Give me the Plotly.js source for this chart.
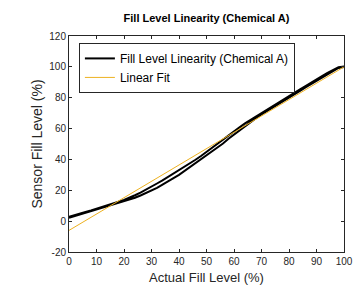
<!DOCTYPE html>
<html>
<head>
<meta charset="utf-8">
<script src="https://cdn.plot.ly/plotly-3.0.1.min.js"></script>
<style>html,body{margin:0;padding:0;background:#fff;}#chart{width:356px;height:285px;}</style>
</head>
<body>
<div id="chart"></div>
<script>
var fillLevel = [0,2,4,6,8,10,12,14,16,18,20,22,24,26,28,30,32,34,36,38,40,42,44,46,48,50,52,54,56,58,60,62,64,66,68,70,72,74,76,78,80,82,84,86,88,90,92,94,96,98,100];
var sensorUp = [2.1,3.2,4.3,5.3,6.4,7.5,8.5,9.6,10.7,11.7,12.8,13.9,15.2,16.6,18.1,19.9,21.6,23.7,25.6,27.9,30.0,32.5,34.9,37.4,39.7,42.3,44.9,47.7,50.3,53.4,56.1,59.1,61.7,64.3,66.8,69.2,71.3,73.7,75.7,78.0,80.1,82.3,84.4,86.7,88.8,91.0,93.1,95.4,97.5,99.3,100.0];
var sensorDown = [2.9,3.9,4.8,6.0,7.0,8.2,9.1,10.3,11.4,12.6,13.8,15.2,16.8,18.5,20.4,22.3,24.4,26.4,28.6,30.8,32.9,35.2,37.5,39.8,42.2,44.6,47.2,49.7,52.5,55.2,58.1,60.8,63.4,65.9,68.2,70.5,72.7,74.8,77.0,79.0,81.2,83.2,85.4,87.5,89.7,91.7,94.0,96.1,98.2,99.8,100.3];
var fitX = [0, 100];
var fitY = [-6, 100];
var xTicks = [0,10,20,30,40,50,60,70,80,90,100];
var yTicks = [-20,0,20,40,60,80,100,120];
var yTickLabels = ['-20','0','20','40','60','80','100','120'];

var loopX = fillLevel.concat(fillLevel.slice().reverse());
var loopY = sensorUp.concat(sensorDown.slice().reverse());

var traces = [
  {x: loopX, y: loopY, type: 'scatter', mode: 'lines', name: 'Fill Level Linearity (Chemical A)',
   line: {color: '#000000', width: 2}},
  {x: fitX, y: fitY, type: 'scatter', mode: 'lines', name: 'Linear Fit',
   line: {color: '#EDB120', width: 1}}
];

var FONT = 'Liberation Sans, Arial, sans-serif';
var axisCommon = {
  showline: true, linecolor: '#262626', linewidth: 1, mirror: 'ticks',
  ticks: 'inside', ticklen: 3, tickcolor: '#262626', tickwidth: 1,
  showgrid: false, zeroline: false,
  tickfont: {family: FONT, size: 10, color: '#262626'}
};

var layout = {
  width: 356, height: 285,
  margin: {l: 69, r: 12, t: 36, b: 33},
  paper_bgcolor: '#ffffff', plot_bgcolor: '#ffffff',
  title: {text: '<b>Fill Level Linearity (Chemical A)</b>', x: 0.58, xanchor: 'center', y: 0.935, yanchor: 'middle',
          font: {family: FONT, size: 11, color: '#000000'}},
  xaxis: Object.assign({}, axisCommon, {range: [0, 100], tickvals: xTicks,
    title: {text: 'Actual Fill Level (%)', standoff: 13, font: {family: FONT, size: 13, color: '#262626'}}}),
  yaxis: Object.assign({}, axisCommon, {range: [-20, 120], tickvals: yTicks, ticktext: yTickLabels,
    title: {text: 'Sensor Fill Level (%)', standoff: 3, font: {family: FONT, size: 14, color: '#262626'}}}),
  legend: {x: 0.036, y: 0.968, xanchor: 'left', yanchor: 'top', bgcolor: '#ffffff',
    bordercolor: '#262626', borderwidth: 1, tracegroupgap: 0,
    font: {family: FONT, size: 12, color: '#000000'}},
  showlegend: true
};

Plotly.newPlot('chart', traces, layout, {displayModeBar: false, staticPlot: true});
</script>
</body>
</html>
